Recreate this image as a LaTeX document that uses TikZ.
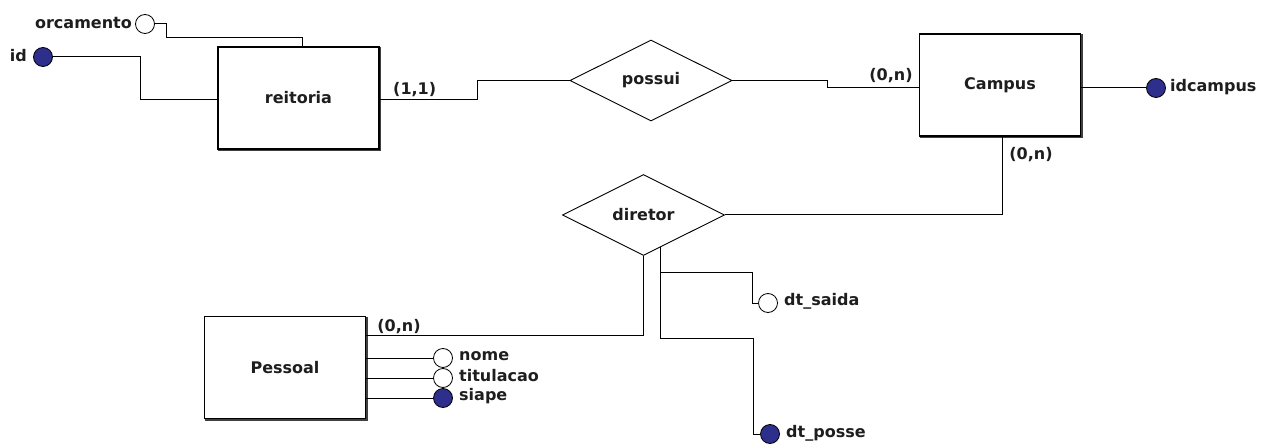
\documentclass[tikz,border=0pt]{standalone}
\usepackage{fontspec}
\setmainfont{DejaVu Sans}
\usetikzlibrary{shapes.geometric,calc}
\definecolor{attrblue}{RGB}{46,46,140}
\definecolor{txt}{RGB}{30,30,30}
\begin{document}
\begin{tikzpicture}[x=1pt,y=-1pt,
  every node/.style={font=\bfseries\fontsize{16}{18}\selectfont, text=txt},
  entity/.style={draw, fill=white, line width=1.1pt, minimum width=161pt, minimum height=102pt, inner sep=0pt},
  relation/.style={draw, diamond, fill=white, line width=0.9pt, inner sep=0pt, minimum width=162pt, minimum height=81pt},
  keyattr/.style={circle, draw, fill=attrblue, minimum size=19pt, inner sep=0pt, line width=0.8pt},
  attr/.style={circle, draw, fill=white, minimum size=19pt, inner sep=0pt, line width=0.8pt},
  lbl/.style={inner sep=0pt, anchor=west},
  card/.style={inner sep=0pt},
  conn/.style={line width=1pt},
  shade/.style={line width=1.6pt, black!75}]
\useasboundingbox (0,0) rectangle (1273,446);

% entities
\node[entity] (reitoria) at (298.5,98) {reitoria};
\node[entity] (campus) at (1000,85) {Campus};
\node[entity] (pessoal) at (285,367.5) {Pessoal};
\foreach \e in {reitoria,campus,pessoal}{
  \draw[shade] ([xshift=1pt,yshift=-1pt]\e.north east) -- ([xshift=1pt,yshift=-1pt]\e.south east) -- ([xshift=1pt,yshift=-1pt]\e.south west);
}

% relationships
\node[relation] (possui) at (651,80.5) {possui};
\node[relation] (diretor) at (643.5,215) {diretor};

% attributes of reitoria
\node[attr] (orc) at (145,24) {};
\node[lbl, anchor=east] (orcl) at (132,23) {orcamento};
\node[keyattr] (id) at (43,57) {};
\node[lbl, anchor=east] (idl) at (27,56) {id};

% attribute of campus
\node[keyattr] (idc) at (1156,88) {};
\node[lbl] (idcl) at (1170,87) {idcampus};

% attributes of pessoal
\node[attr] (nome) at (443,358) {};
\node[lbl] (nomel) at (459,356) {nome};
\node[attr] (tit) at (443,378) {};
\node[lbl] (titl) at (459,376) {titulacao};
\node[keyattr] (siape) at (443,398) {};
\node[lbl] (siapel) at (459,396) {siape};

% attributes of diretor
\node[attr] (dts) at (768,303) {};
\node[lbl] (dtsl) at (784,301) {dt\_saida};
\node[keyattr] (dtp) at (770,434) {};
\node[lbl] (dtpl) at (786,433) {dt\_posse};

% cardinalities
\node[card, anchor=south west] (c11) at (393,97) {(1,1)};
\node[card] (c0n1) at (891,76) {(0,n)};
\node[card] (c0n2) at (1031,155) {(0,n)};
\node[card] (c0n3) at (399,327) {(0,n)};

% connectors
\draw[conn] (orc.east) -- (166,24) -- (166,38) -- (302,38) -- ($(reitoria.north)+(3.5,0)$);
\draw[conn] (id.east) -- (140,57) -- (140,100) -- ($(reitoria.west)+(0,2)$);
\draw[conn] ($(reitoria.east)+(0,2)$) -- (477,100) -- (477,80.5) -- (possui.west);
\draw[conn] (possui.east) -- (827,80.5) -- (827,88) -- ($(campus.west)+(0,3)$);
\draw[conn] ($(campus.east)+(0,3)$) -- (idc.west);
\draw[conn] ($(campus.south)+(2,0)$) |- (diretor.east);
\draw[conn] (diretor.south) |- ($(pessoal.north east)+(0,20)$);
\coordinate (dp) at ($(diretor.south)!0.21!(diretor.east)$);
\draw[conn] (dp) -- (dp |- 0,338) -- (753,338) |- (dtp.west);
\draw[conn] (dp |- 0,272) -- (752,272) |- (dts.west);
\draw[conn] (pessoal.east |- nome) -- (nome.west);
\draw[conn] (pessoal.east |- tit) -- (tit.west);
\draw[conn] (pessoal.east |- siape) -- (siape.west);
\end{tikzpicture}
\end{document}
